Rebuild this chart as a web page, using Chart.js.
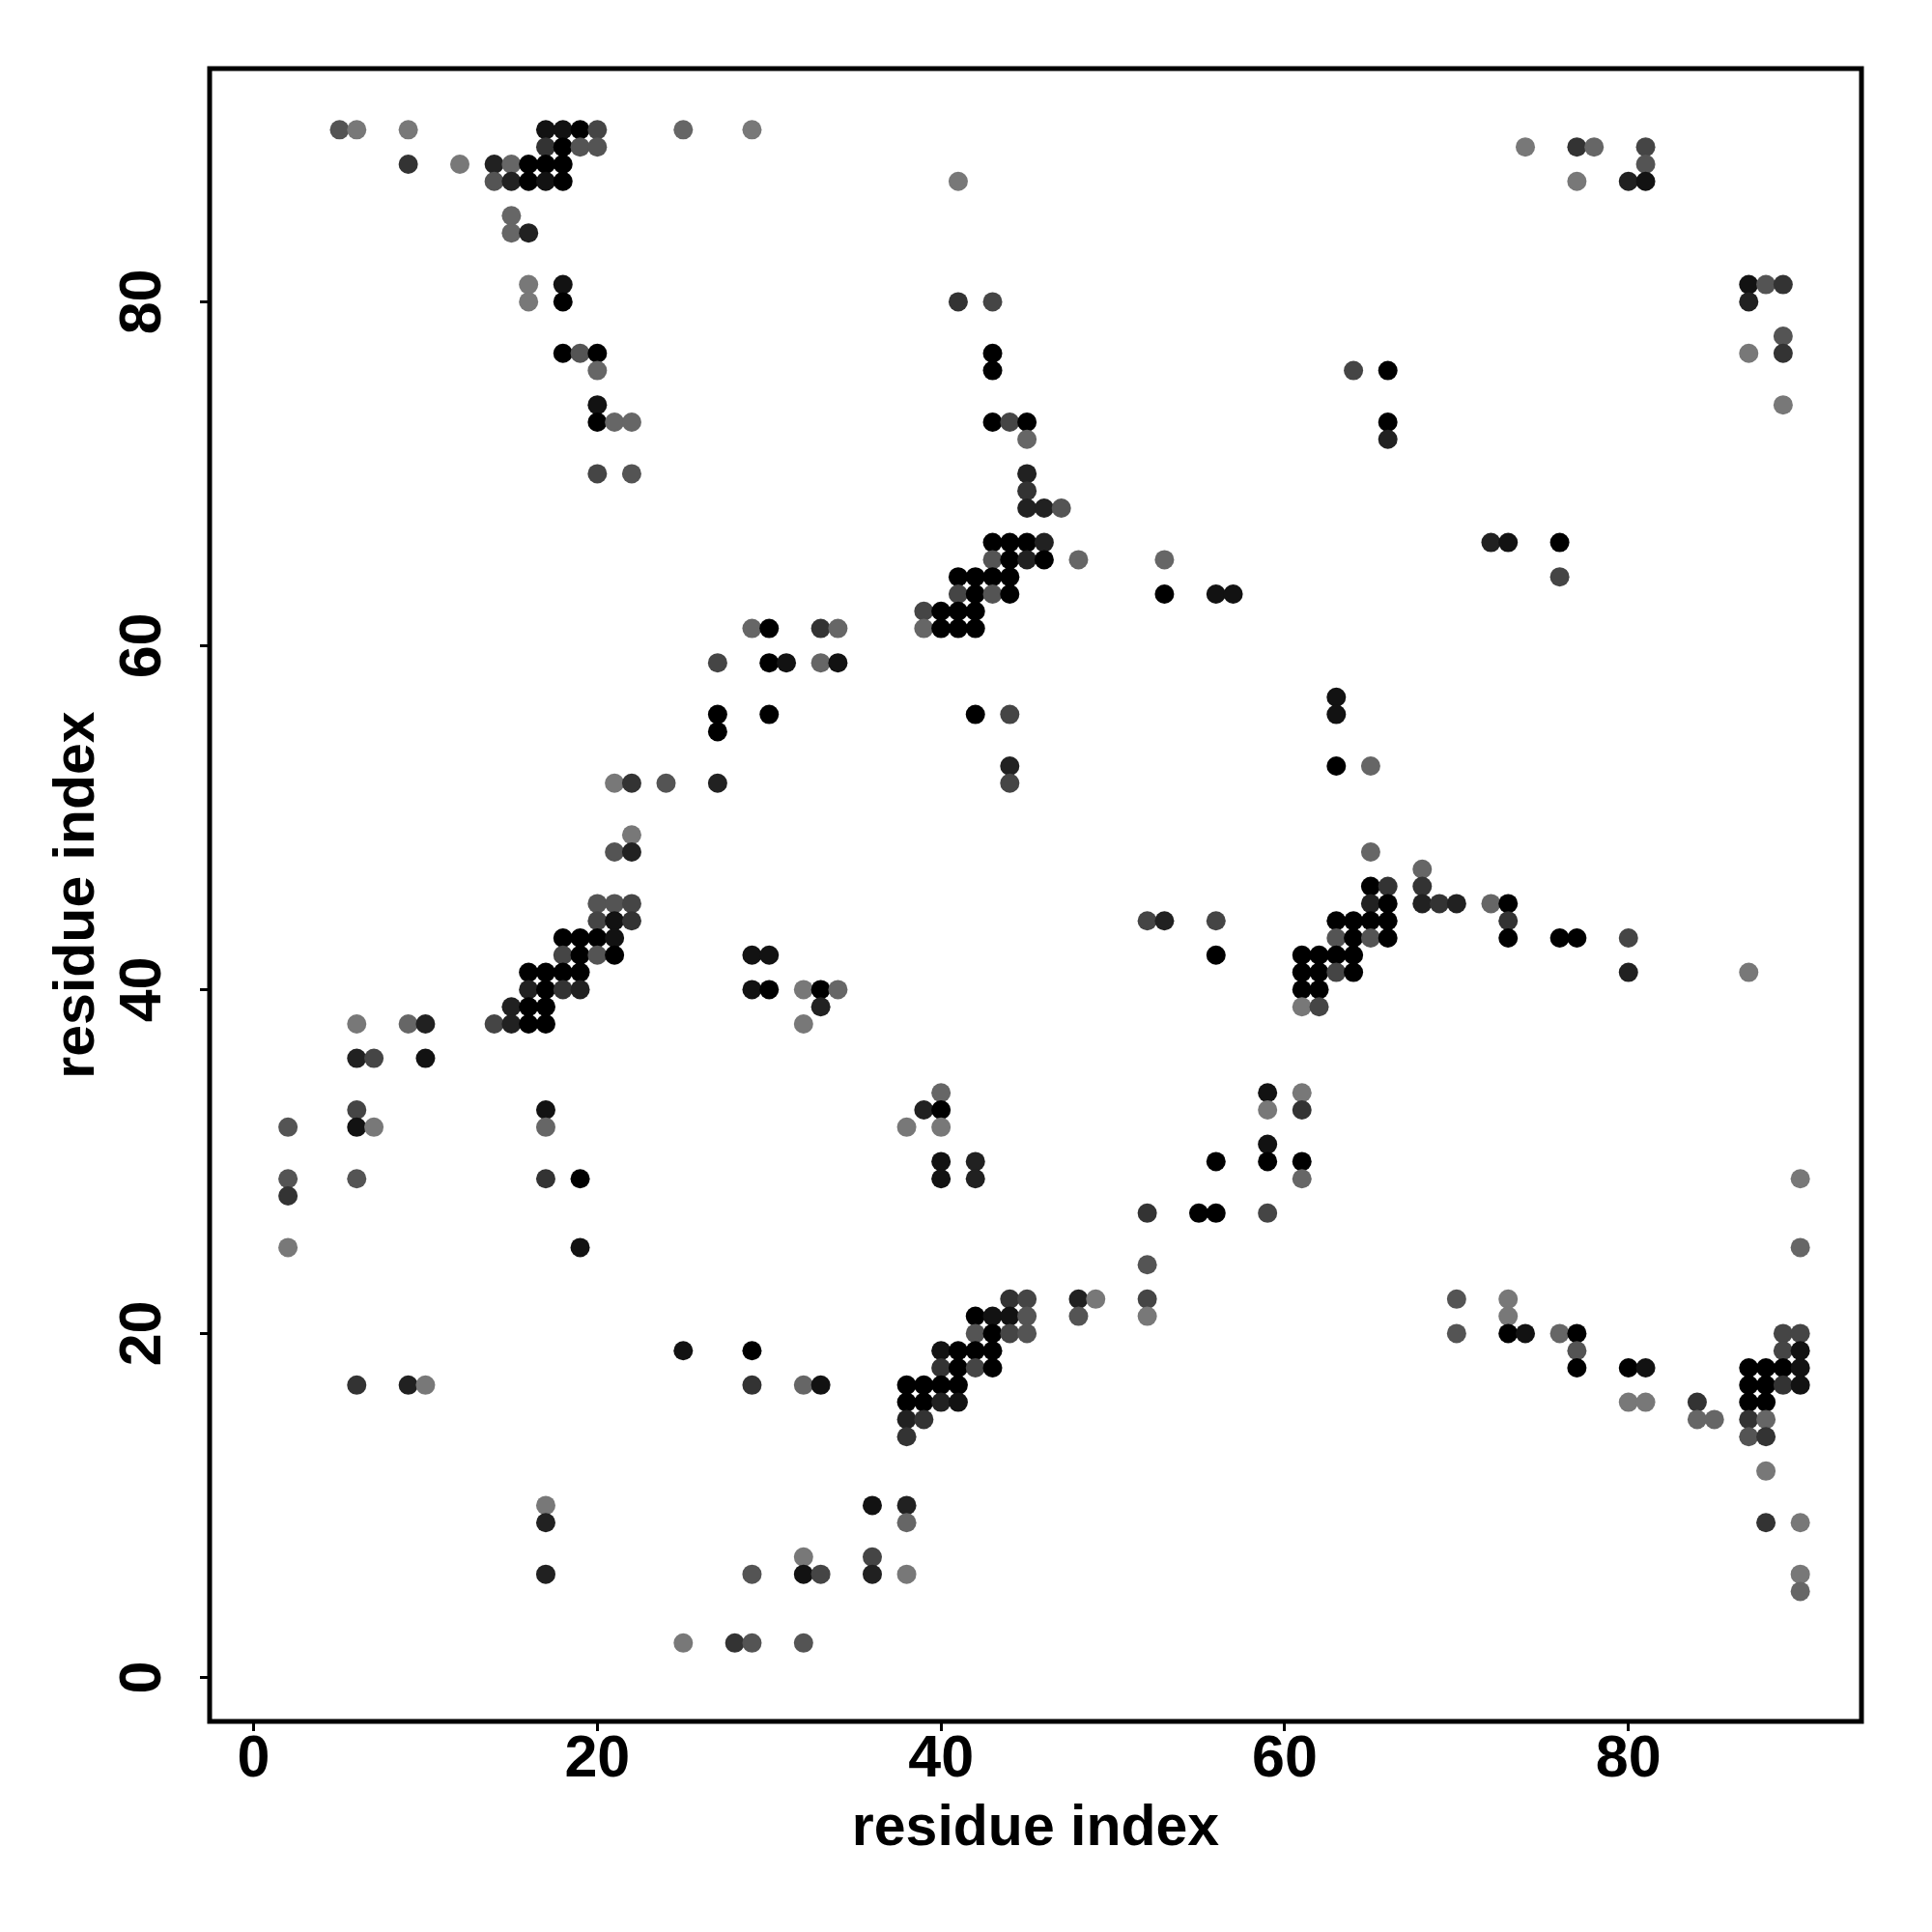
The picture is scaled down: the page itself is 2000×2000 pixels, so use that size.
<!DOCTYPE html>
<html>
<head>
<meta charset="utf-8">
<script src="https://cdn.jsdelivr.net/npm/chart.js@4/dist/chart.umd.min.js"></script>
<style>
  html, body { margin: 0; padding: 0; background: #fff; }
</style>
</head>
<body>
<canvas id="chart" width="2000" height="2000"></canvas>
<script>
// contact map: for each residue j (y) the partner residues i (x) and contact probability
const rowY = [90, 89, 88, 87, 85, 84, 81, 80, 78, 77, 76, 74, 73, 72, 70, 69, 68, 66, 65, 64, 63, 62, 61, 59,
              57, 56, 55, 53, 52, 49, 48, 47, 46, 45, 44, 43, 42, 41, 40, 39, 38, 36, 34, 33, 32, 31, 30, 29,
              28, 27, 25, 24, 22, 21, 20, 19, 18, 17, 16, 15, 14, 12, 10, 9, 7, 6, 5, 2];
const rowX = [
  [5, 6, 9, 17, 18, 19, 20, 25, 29],
  [17, 18, 19, 20, 74, 77, 78, 81],
  [9, 12, 14, 15, 16, 17, 18, 81],
  [14, 15, 16, 17, 18, 41, 77, 80, 81],
  [15],
  [15, 16],
  [16, 18, 87, 88, 89],
  [16, 18, 41, 43, 87],
  [89],
  [18, 19, 20, 43, 87, 89],
  [20, 43, 64, 66],
  [20, 89],
  [20, 21, 22, 43, 44, 45, 66],
  [45, 66],
  [20, 22, 45],
  [45],
  [45, 46, 47],
  [43, 44, 45, 46, 72, 73, 76],
  [43, 44, 45, 46, 48, 53],
  [41, 42, 43, 44, 76],
  [41, 42, 43, 44, 53, 56, 57],
  [39, 40, 41, 42],
  [29, 30, 33, 34, 39, 40, 41, 42],
  [27, 30, 31, 33, 34],
  [63],
  [27, 30, 42, 44, 63],
  [27],
  [44, 63, 65],
  [21, 22, 24, 27, 44],
  [22],
  [21, 22, 65],
  [68],
  [65, 66, 68],
  [20, 21, 22, 65, 66, 68, 69, 70, 72, 73],
  [20, 21, 22, 52, 53, 56, 63, 64, 65, 66, 73],
  [18, 19, 20, 21, 63, 64, 65, 66, 73, 76, 77, 80],
  [18, 19, 20, 21, 29, 30, 56, 61, 62, 63, 64],
  [16, 17, 18, 19, 61, 62, 63, 64, 80, 87],
  [16, 17, 18, 19, 29, 30, 32, 33, 34, 61, 62],
  [15, 16, 17, 33, 61, 62],
  [6, 9, 10, 14, 15, 16, 17, 32],
  [6, 7, 10],
  [40, 59, 61],
  [6, 17, 39, 40, 59, 61],
  [2, 6, 7, 17, 38, 40],
  [59],
  [40, 42, 56, 59, 61],
  [2, 6, 17, 19, 40, 42, 61, 90],
  [2],
  [52, 55, 56, 59],
  [2, 19, 90],
  [52],
  [44, 45, 48, 49, 52, 70, 73],
  [42, 43, 44, 45, 48, 52, 73],
  [42, 43, 44, 45, 70, 73, 74, 76, 77, 89, 90],
  [25, 29, 40, 41, 42, 43, 77, 89, 90],
  [40, 41, 42, 43, 77, 80, 81, 87, 88, 89, 90],
  [6, 9, 10, 29, 32, 33, 38, 39, 40, 41, 87, 88, 89, 90],
  [38, 39, 40, 41, 80, 81, 84, 87, 88],
  [38, 39, 84, 85, 87, 88],
  [38, 87, 88],
  [88],
  [17, 36, 38],
  [17, 38, 88, 90],
  [32, 36],
  [17, 29, 32, 33, 36, 38, 90],
  [90],
  [25, 28, 29, 32]
];
const rowP = [
  [.67, .53, .53, .93, .93, 1, .73, .6, .53],
  [.8, 1, .67, .67, .53, .8, .6, .73],
  [.8, .53, .87, .6, 1, 1, 1, .67],
  [.67, .87, 1, .93, 1, .53, .53, .87, .93],
  [.6],
  [.6, .87],
  [.53, .93, .93, .67, .8],
  [.53, 1, .8, .73, .87],
  [.67],
  [1, .67, 1, 1, .53, .8],
  [.6, 1, .73, 1],
  [.93, .53],
  [1, .6, .6, 1, .73, 1, 1],
  [.6, .87],
  [.73, .67, .87],
  [.8],
  [.87, .87, .67],
  [1, 1, 1, .87, .87, .93, 1],
  [.67, 1, .87, 1, .6, .6],
  [1, 1, 1, 1, .73],
  [.73, 1, .67, 1, 1, .93, .93],
  [.73, 1, 1, 1],
  [.6, 1, .8, .6, .6, 1, 1, 1],
  [.73, 1, .93, .6, .93],
  [.93],
  [1, 1, 1, .73, .93],
  [1],
  [.87, 1, .6],
  [.53, .8, .67, .87, .73],
  [.53],
  [.67, .87, .6],
  [.6],
  [1, .8, .8],
  [.67, .67, .73, .87, 1, .87, .8, .87, .6, 1],
  [.73, .93, .8, .73, .87, .73, 1, 1, 1, 1, .8],
  [1, 1, 1, .93, .67, 1, .67, 1, 1, 1, 1, .73],
  [.73, 1, .67, 1, .93, .93, 1, 1, 1, 1, 1],
  [1, 1, 1, 1, 1, 1, .73, 1, .87, .53],
  [.87, 1, .8, .87, .93, 1, .53, 1, .6, 1, 1],
  [.87, 1, 1, .87, .53, .73],
  [.53, .6, .87, .73, .87, 1, 1, .53],
  [.87, .73, .93],
  [.6, .93, .53],
  [.73, .93, .87, 1, .53, .8],
  [.67, .93, .53, .6, .53, .53],
  [.93],
  [.93, .87, 1, 1, 1],
  [.67, .67, .8, 1, .93, .87, .6, .53],
  [.8],
  [.8, 1, 1, .73],
  [.53, .93, .6],
  [.67],
  [.8, .73, .87, .53, .73, .67, .53],
  [1, .93, .93, .67, .67, .53, .53],
  [.67, 1, .73, .67, .67, 1, .93, .6, 1, .73, .73],
  [.93, 1, .93, 1, 1, 1, .67, .73, .93],
  [.8, 1, .73, 1, 1, 1, .93, 1, 1, 1, .93],
  [.8, .87, .53, .8, .6, .93, 1, 1, 1, 1, 1, 1, .8, .93],
  [1, 1, .87, .93, .53, .53, .8, 1, 1],
  [.87, .8, .6, .6, .8, .6],
  [.8, .67, .8],
  [.53],
  [.53, .93, .87],
  [.87, .6, .8, .53],
  [.53, .73],
  [.87, .67, .93, .73, .87, .53, .53],
  [.6],
  [.53, .8, .67, .67]
];
const tickVals = [0, 20, 40, 60, 80];

const points = [];
rowY.forEach((y, r) => rowX[r].forEach((x, k) => points.push({x, y, p: rowP[r][k]})));

function shade(p) {
    const g = Math.round((1 - p) * 255);
    return `rgb(${g},${g},${g})`;
}

const family = '"Liberation Sans", Arial, Helvetica, sans-serif';

// R style box around the plot region
const boxPlugin = {
    id: 'box',
    afterDraw(chart) {
        const {ctx, chartArea: a} = chart;
        ctx.save();
        ctx.strokeStyle = '#000';
        ctx.lineWidth = 5;
        ctx.strokeRect(a.left, a.top, a.right - a.left, a.bottom - a.top);
        ctx.restore();
    }
};

new Chart(document.getElementById('chart'), {
    type: 'scatter',
    data: {
        datasets: [{
            data: points,
            pointRadius: 10,
            pointHoverRadius: 10,
            pointBorderWidth: 0,
            borderWidth: 0,
            backgroundColor: c => shade(c.raw ? c.raw.p : 1)
        }]
    },
    options: {
        responsive: false,
        animation: false,
        layout: {padding: {top: 71, right: 73, left: 0, bottom: 0}},
        plugins: {legend: {display: false}, tooltip: {enabled: false}},
        scales: {
            x: {
                type: 'linear', position: 'bottom', min: -2.56, max: 93.56,
                afterBuildTicks: s => { s.ticks = tickVals.map(v => ({value: v})); },
                afterFit: s => { s.height = 218; },
                grid: {drawOnChartArea: false, drawTicks: true, tickLength: 10, color: '#000', lineWidth: 3},
                border: {display: false},
                ticks: {color: '#000', padding: -6, maxRotation: 0, minRotation: 0,
                        font: {family, size: 61, weight: 'bold'}},
                title: {display: true, text: 'residue index', color: '#000', padding: {bottom: 71},
                        font: {family, size: 59, weight: 'bold'}}
            },
            y: {
                type: 'linear', position: 'left', min: -2.56, max: 93.56,
                afterBuildTicks: s => { s.ticks = tickVals.map(v => ({value: v})); },
                afterFit: s => { s.width = 217; },
                grid: {drawOnChartArea: false, drawTicks: true, tickLength: 10, color: '#000', lineWidth: 3},
                border: {display: false},
                ticks: {color: '#000', padding: 24, minRotation: 90, maxRotation: 90, crossAlign: 'center',
                        font: {family, size: 61, weight: 'bold'}},
                title: {display: true, text: 'residue index', color: '#000', padding: {top: 45},
                        font: {family, size: 59, weight: 'bold'}}
            }
        }
    },
    plugins: [boxPlugin]
});
</script>
</body>
</html>
